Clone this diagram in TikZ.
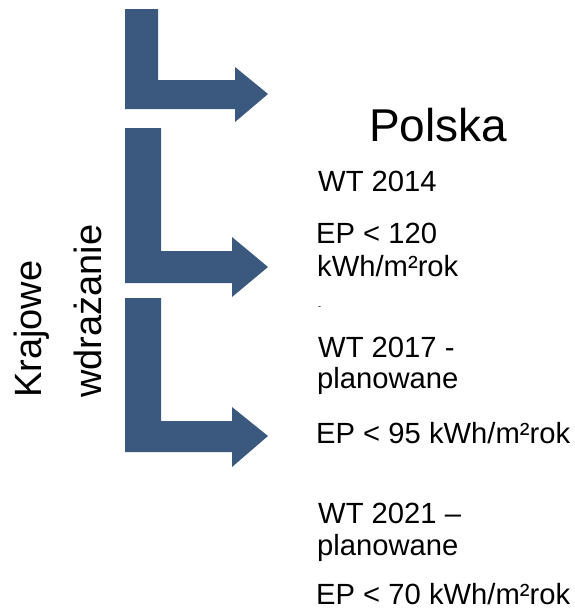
\documentclass[tikz,border=0pt]{standalone}
\usepackage{fontspec}
\setmainfont{Liberation Sans}
\definecolor{arrowblue}{RGB}{59,89,127}
\tikzset{
  bigtext/.style={inner sep=0pt, anchor=base west, font=\fontsize{46}{54}\selectfont},
  normtext/.style={inner sep=0pt, anchor=base west, font=\fontsize{29.2}{32}\selectfont},
  bent/.style={fill=arrowblue}
}
\begin{document}
\begin{tikzpicture}[x=1pt,y=-1pt]
        \useasboundingbox (0,0) rectangle (574,613);

        % Arrows
        \fill[bent] (125,9) -- (158,9) -- (158,80) -- (235,80) -- (235,67) -- (268,94)
            -- (235,122) -- (235,109) -- (125,109) -- cycle;
        \fill[bent] (125,128) -- (161,128) -- (161,251) -- (232,251) -- (232,237) -- (268,267)
            -- (232,297) -- (232,283) -- (125,283) -- cycle;
        \fill[bent] (125,298) -- (161,298) -- (161,421) -- (232,421) -- (232,407) -- (268,436)
            -- (232,467) -- (232,452) -- (125,452) -- cycle;

        % Side label
        \node[rotate=90, anchor=south west, inner sep=0pt, align=left,
              font=\fontsize{38}{60}\selectfont] (krajowe) at (102,398)
              {Krajowe\\wdrażanie};

        % Polska
        \node[bigtext] (polska) at (369,141) {Polska};
        \node[normtext] (wt14) at (318,191) {WT 2014};
        \node[normtext] (ep14a) at (316,243) {EP < 120};
        \node[normtext] (ep14b) at (317,276) {kWh/m²rok};
        \node[inner sep=0pt, anchor=base west, font=\fontsize{9}{10}\selectfont] (dot) at (318,309) {-};
        \node[normtext] (wt17a) at (318,357) {WT 2017 -};
        \node[normtext] (wt17b) at (317,388) {planowane};
        \node[normtext] (ep17) at (316,443) {EP < 95 kWh/m²rok};
        \node[normtext] (wt21a) at (318,523) {WT 2021 --};
        \node[normtext] (wt21b) at (317,555) {planowane};
        \node[normtext] (ep21) at (316,604) {EP < 70 kWh/m²rok};
\end{tikzpicture}
\end{document}
